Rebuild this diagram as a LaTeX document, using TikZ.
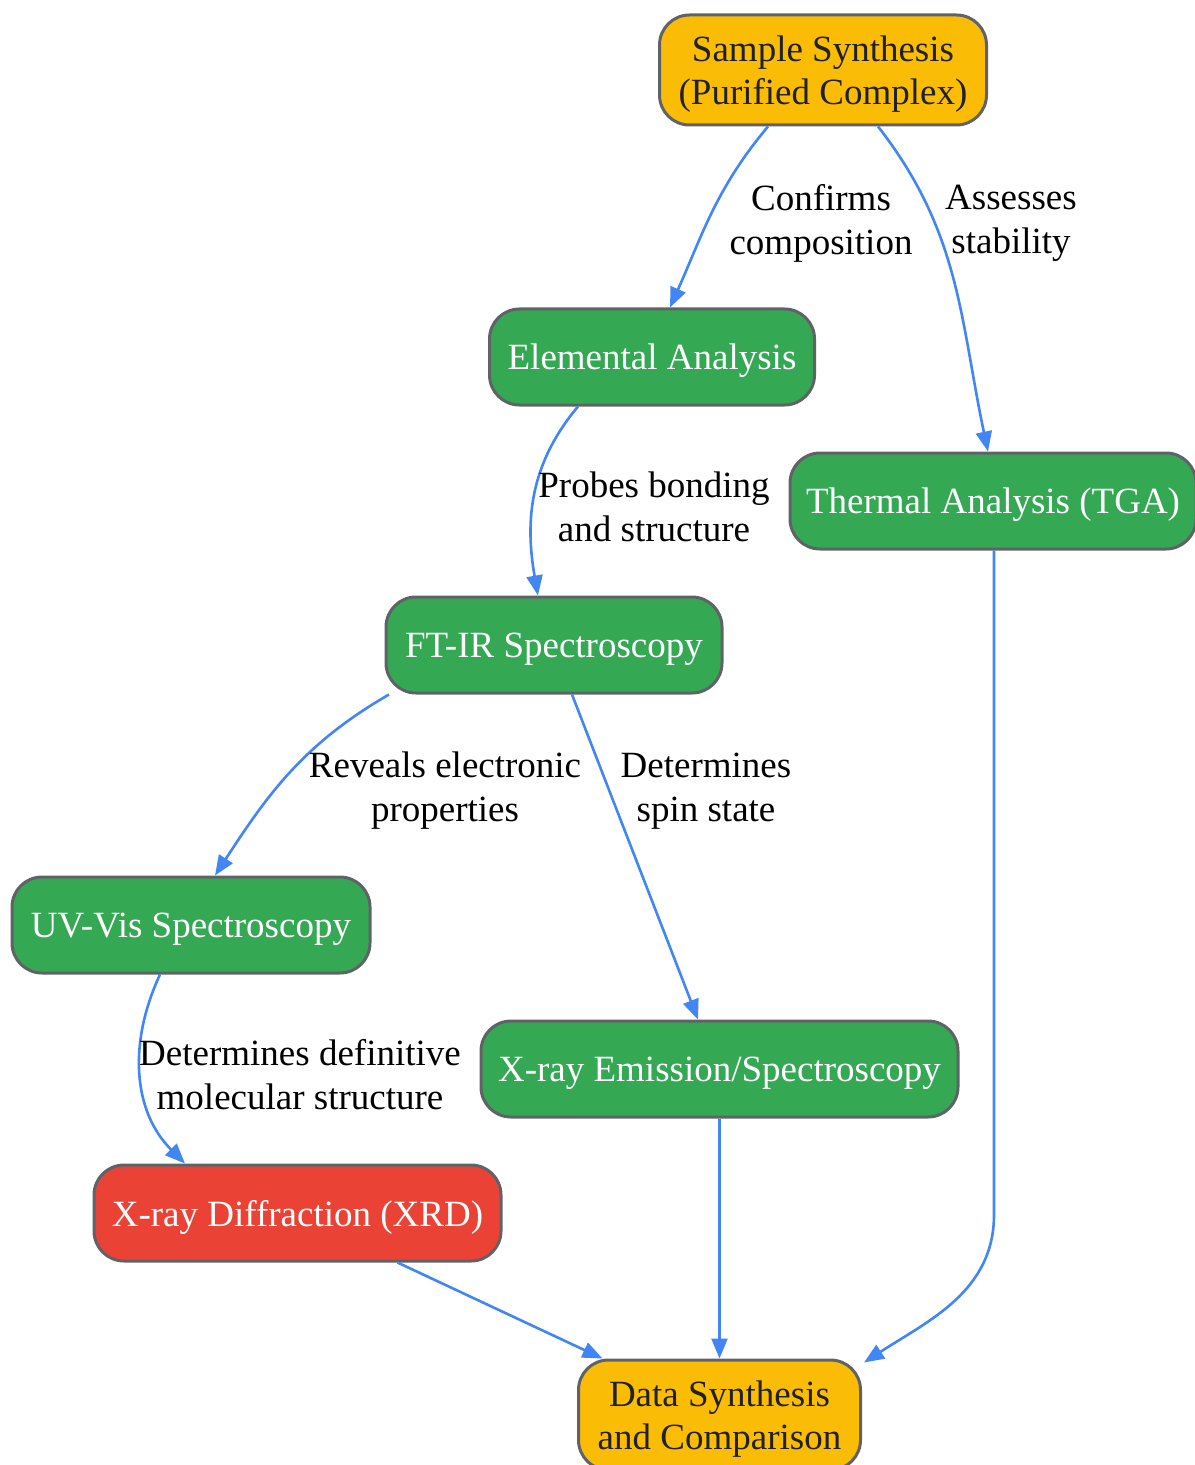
\documentclass[tikz,border=0pt]{standalone}
\usepackage{fontspec}
\setmainfont{Liberation Serif}
\usepackage{tikz}
\usetikzlibrary{shapes.geometric, arrows.meta, positioning}
\definecolor{gyellow}{HTML}{FBBC05}
\definecolor{ggreen}{HTML}{34A853}
\definecolor{gred}{HTML}{EA4335}
\definecolor{gborder}{HTML}{5F6368}
\definecolor{gblue}{HTML}{4285F4}
\definecolor{gtext}{HTML}{202124}
\tikzstyle{arrow} = [line width=1.3pt, gblue, ->, >={Triangle[length=10pt,width=8pt]}]
\tikzstyle{step box} = [rectangle, rounded corners=15pt, draw = gborder, line width=1.5pt, minimum height=48pt, align=center, inner sep=6pt, text depth=0pt, font=\fontsize{18.5}{21.5}\selectfont]
\tikzstyle{endpoint} = [step box, fill=gyellow, text=gtext, minimum height=55pt]
\tikzstyle{method} = [step box, fill=ggreen, text=white]
\tikzstyle{keymethod} = [step box, fill=gred, text=white]
\tikzstyle{elabel} = [align=center, font=\fontsize{18.5}{22}\selectfont]

\begin{document}
\begin{tikzpicture}
\useasboundingbox (0,0) rectangle (597pt,-732.5pt);

% Sample synthesis:
\node(synth)[endpoint, minimum width=163.5pt] at (411.5pt,-35pt)
{Sample Synthesis\\(Purified Complex)};

% Elemental analysis:
\node(elem)[method, minimum width=162.5pt, below of=synth, node distance=143.5pt, xshift=-85.5pt]
{Elemental Analysis};

% Thermal analysis:
\node(tga)[method, minimum width=203pt, below of=elem, node distance=72pt, xshift=170.5pt]
{Thermal Analysis (TGA)};

% FT-IR:
\node(ftir)[method, minimum width=168pt, below of=elem, node distance=144pt, xshift=-49pt]
{FT-IR Spectroscopy};

% UV-Vis:
\node(uvvis)[method, minimum width=179pt, below of=ftir, node distance=140pt, xshift=-181.5pt]
{UV-Vis Spectroscopy};

% X-ray emission:
\node(xes)[method, minimum width=238.5pt, below of=ftir, node distance=212pt, xshift=82.75pt]
{X-ray Emission/Spectroscopy};

% XRD:
\node(xrd)[keymethod, minimum width=203.5pt, below of=uvvis, node distance=144pt, xshift=53.25pt]
{X-ray Diffraction (XRD)};

% Data synthesis:
\node(data)[endpoint, minimum width=141pt, below of=xes, node distance=173pt]
{Data Synthesis\\and Comparison};

% Connectors:
\draw[arrow] ([xshift=-27.5pt]synth.south) to[out=-130, in=66] ([xshift=9pt]elem.north);
\draw[arrow] ([xshift=27.5pt]synth.south) to[out=-52, in=102] ([xshift=-2.5pt]tga.north);
\draw[arrow] ([xshift=-37pt]elem.south) to[out=-130, in=100] ([xshift=-8pt]ftir.north);
\draw[arrow] ([xshift=-82.5pt]ftir.south) to[out=-150, in=57] ([xshift=12pt]uvvis.north);
\draw[arrow] ([xshift=9pt]ftir.south) -- ([xshift=-10.75pt]xes.north);
\draw[arrow] ([xshift=-15.5pt]uvvis.south) to[out=-115, in=135] ([xshift=-56.25pt]xrd.north);
\draw[arrow] ([xshift=0.5pt]tga.south) -- ++(0,-332pt) to[out=-90, in=33] ([xshift=1pt,yshift=-2pt]data.north east);
\draw[arrow] (xes.south) -- (data.north);
\draw[arrow] ([xshift=50pt]xrd.south) -- ([xshift=-58.5pt]data.north);

% Labels:
\node(lconf)[elabel] at (410.5pt,-111.5pt) {Confirms\\composition};
\node(lstab)[elabel] at (505.5pt,-111.5pt) {Assesses\\stability};
\node(lbond)[elabel] at (327pt,-253.5pt) {Probes bonding\\and structure};
\node(lelec)[elabel] at (222.5pt,-395.5pt) {Reveals electronic\\properties};
\node(lspin)[elabel] at (353pt,-395.5pt) {Determines\\spin state};
\node(lstruct)[elabel] at (150pt,-537.5pt) {Determines definitive\\molecular structure};

\end{tikzpicture}
\end{document}
